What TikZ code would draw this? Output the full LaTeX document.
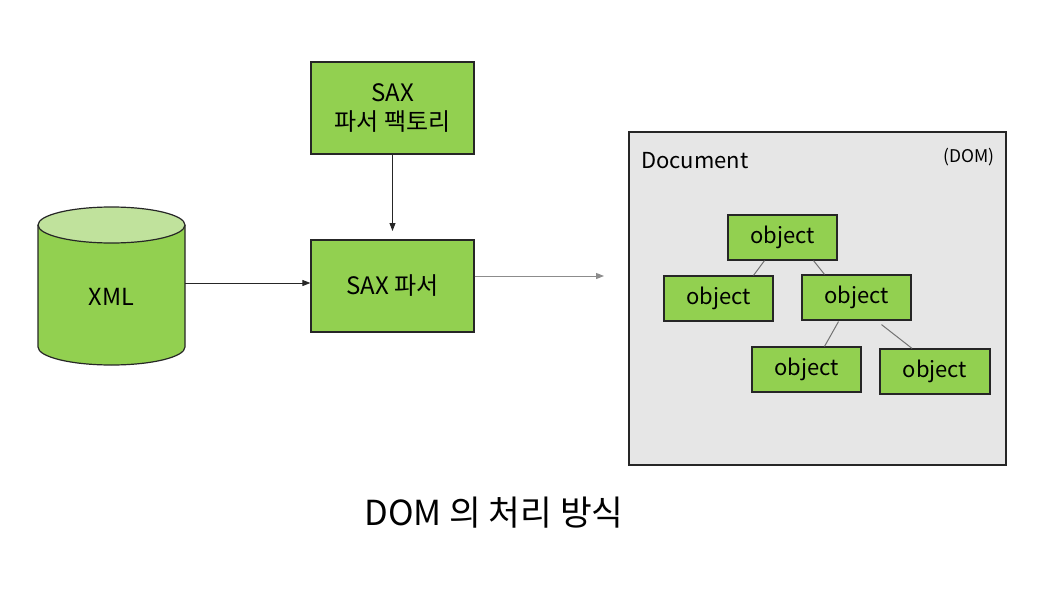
\documentclass[tikz,border=0pt]{standalone}
\usepackage{fontspec}
\setmainfont{Noto Sans CJK KR}
\usetikzlibrary{arrows.meta,calc}
\definecolor{boxgreen}{HTML}{92D050}
\definecolor{topgreen}{HTML}{C0E29C}
\definecolor{docgray}{HTML}{E6E6E6}
\definecolor{edge}{HTML}{262626}
\tikzset{
  greenbox/.style={draw=edge, line width=1.2pt, fill=boxgreen, inner sep=0pt, align=center, font=\fontsize{24}{30}\selectfont},
  objbox/.style={greenbox, minimum width=109pt, minimum height=45pt, font=\fontsize{22}{26}\selectfont},
  flow/.style={draw=edge, line width=0.9pt, -{Triangle[length=8pt,width=6pt]}},
  treeline/.style={draw=black!55, line width=1pt},
}
\begin{document}
\begin{tikzpicture}[x=1pt,y=-1pt]
\useasboundingbox (0,0) rectangle (1055,615);
% cylinder
\node[minimum width=147pt, minimum height=158pt, inner sep=0pt] (xml) at (111.5,286) {};
\fill[boxgreen] (38,225) -- (38,347) arc[start angle=180, end angle=0, x radius=73.5, y radius=18] -- (185,225) -- cycle;
\draw[edge, line width=1.2pt] (38,225) -- (38,347) arc[start angle=180, end angle=0, x radius=73.5, y radius=18] -- (185,225);
\draw[edge, line width=1.2pt, fill=topgreen] (111.5,225) ellipse[x radius=73.5, y radius=18];
\node[font=\fontsize{23.5}{28}\selectfont] (xmltext) at (111.5,297) {XML};
% SAX boxes
\node[greenbox, minimum width=163pt, minimum height=92pt] (factory) at (392.5,108) {SAX\\[-1pt]파서 팩토리};
\node[greenbox, minimum width=163pt, minimum height=92pt] (parser) at (392.5,286) {SAX 파서};
\coordinate (facttip) at (392.5,231);
\draw[flow] (factory.south) -- (facttip);
\draw[flow] ([yshift=3pt]xml.east) -- ([yshift=3pt]parser.west);
\coordinate (outtip) at (604,276);
\draw[draw=black!45, line width=1pt, -{Triangle[length=8pt,width=6pt]}] ([yshift=10pt]parser.east) -- (outtip);
% document
\node[draw=edge, line width=1.2pt, fill=docgray, minimum width=377pt, minimum height=333pt, inner sep=0pt] (doc) at (817.5,298.5) {};
\node[anchor=west, font=\fontsize{22}{26}\selectfont, inner sep=0pt] (doclabel) at (641,161) {Document};
\node[anchor=east, font=\fontsize{17.5}{21}\selectfont, inner sep=0pt] (domlabel) at (995,157) {(DOM)};
% objects
\node[objbox] (o1) at (782.5,237.5) {object};
\node[objbox] (o2) at (718.5,298.5) {object};
\node[objbox] (o3) at (856.5,297.5) {object};
\node[objbox] (o4) at (806.5,369.5) {object};
\node[objbox, minimum width=110pt] (o5) at (935,371.5) {object};
\draw[treeline] ([xshift=-18pt]o1.south) -- ([xshift=35pt]o2.north);
\draw[treeline] ([xshift=31pt]o1.south) -- ([xshift=-32pt]o3.north);
\draw[treeline] ([xshift=-18pt,yshift=-1pt]o3.south) -- ([xshift=18pt]o4.north);
\draw[treeline] ([xshift=25pt,yshift=-4pt]o3.south) -- ([xshift=-23pt]o5.north);
% title
\node[font=\fontsize{34.5}{40}\selectfont] (title) at (494,513) {DOM 의 처리 방식};
\end{tikzpicture}
\end{document}
